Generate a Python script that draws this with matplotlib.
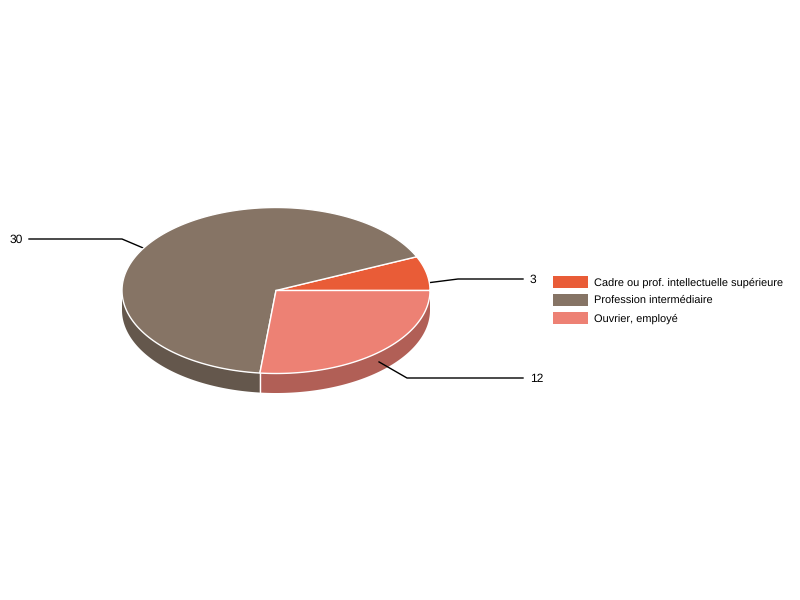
import numpy as np
import matplotlib
matplotlib.use('Agg')
import matplotlib.pyplot as plt
from matplotlib.patches import Polygon, Rectangle

plt.rcParams['font.family'] = ['Liberation Sans', 'DejaVu Sans']
plt.rcParams['text.hinting'] = 'none'
plt.rcParams['text.hinting_factor'] = 1

labels = ['Cadre ou prof. intellectuelle supérieure', 'Profession intermédiaire', 'Ouvrier, employé']
values = [3, 30, 12]
colors = ['#E95C37', '#867465', '#ED8174']
side_colors = ['#AE4528', '#64574C', '#B15F56']

cx, cy = 276, 290.5
rx, ry = 154, 83
depth = 19.5


def pt(deg):
    a = np.radians(deg)
    return cx + rx * np.cos(a), cy - ry * np.sin(a)


def arc(a0, a1):
    t = np.linspace(a0, a1, 160)
    return np.array([pt(d) for d in t])


fig = plt.figure(figsize=(8, 6), dpi=100)
ax = fig.add_axes([0, 0, 1, 1])
ax.set_xlim(0, 800)
ax.set_ylim(600, 0)
ax.axis('off')

# slices go counter-clockwise from the horizontal, last one ends there too
angles = 360 * np.array(values) / sum(values)
edges = np.concatenate([[0], np.cumsum(angles)])
spans = [(edges[i], edges[i + 1]) for i in range(len(values))]

# side wall, only the front half shows
for (a0, a1), sc in zip(spans, side_colors):
    lo, hi = max(a0, 180), min(a1, 360)
    if hi <= lo:
        continue
    top = arc(lo, hi)
    bottom = top[::-1] + [0, depth]
    ax.add_patch(Polygon(np.vstack([top, bottom]), closed=True, fc=sc, ec='none', zorder=1))

# seam between the two walls
sx, sy = pt(edges[2])
ax.plot([sx, sx], [sy, sy + depth], color='white', lw=1, zorder=2)

# leader lines start at mid slice, halfway down the wall; the top face hides part of them
elbows = [(458, 279), (122, 239), (407, 378)]
ends = [(523, 279), (29, 239), (523, 378)]
for (a0, a1), el, en in zip(spans, elbows, ends):
    mx, my = pt((a0 + a1) / 2)
    ax.plot([mx, el[0], en[0]], [my + depth / 2, el[1], en[1]], color='black', lw=1, zorder=3)

# top face
for (a0, a1), c in zip(spans, colors):
    poly = np.vstack([[cx, cy], arc(a0, a1)])
    ax.add_patch(Polygon(poly, closed=True, fc=c, ec='white', lw=1, zorder=4))

ax.text(530, 279.5, str(values[0]), fontsize=8.3, va='center', ha='left')
ax.text(10, 239.5, str(values[1]), fontsize=8.3, va='center', ha='left')
ax.text(530, 378.5, str(values[2]), fontsize=8.3, va='center', ha='left')

# legend
for y, lab, c in zip([282, 300, 318], labels, colors):
    ax.add_patch(Rectangle((553, y - 6), 35, 12, fc=c, ec='none'))
    ax.text(594, y + 0.5, lab, fontsize=7.6, va='center', ha='left')

fig.savefig('out.png', dpi=100)
